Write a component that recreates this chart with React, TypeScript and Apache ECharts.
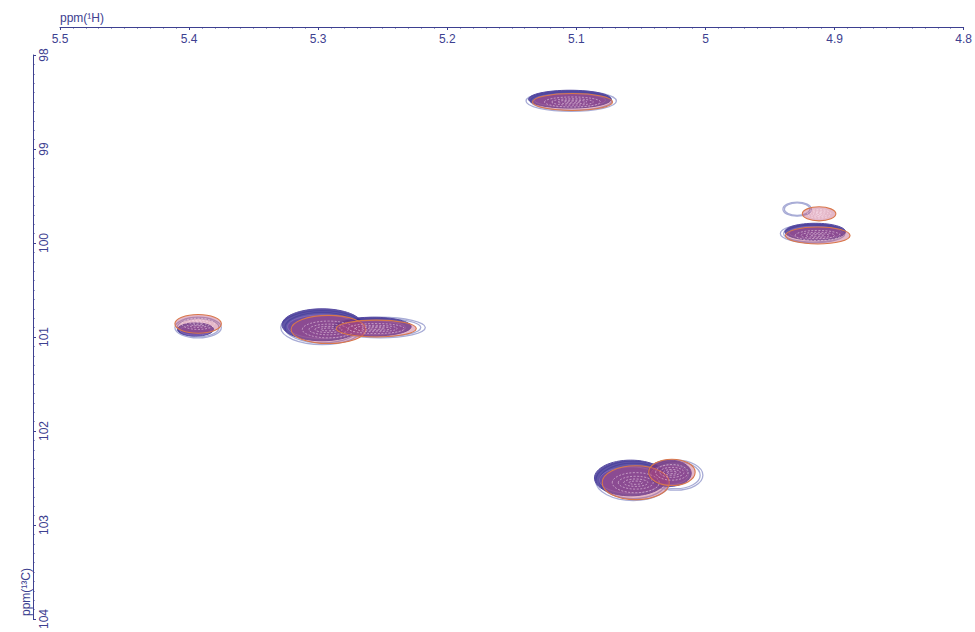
import React, { useEffect, useRef } from "react";
import * as echarts from "echarts";

// 1H axis (ppm), reversed
const xTicks = ["5.5", "5.4", "5.3", "5.2", "5.1", "5", "4.9", "4.8"];
// Spectrum 1 (blue) cross-peaks: 1H ppm, 13C ppm, 1H width, 13C width
const blueH = [5.105, 4.915, 5.395, 5.297, 5.258, 5.058, 5.028];
const blueC = [98.47, 99.88, 100.92, 100.87, 100.89, 102.5, 102.45];
const blueWH = [0.064, 0.047, 0.028, 0.062, 0.06, 0.056, 0.034];
const blueWC = [0.19, 0.18, 0.14, 0.34, 0.2, 0.38, 0.28];
// Spectrum 2 (red) cross-peaks
const redH = [5.103, 4.913, 5.393, 5.292, 5.255, 5.054, 5.026, 4.912];
const redC = [98.5, 99.92, 100.86, 100.92, 100.91, 102.55, 102.44, 99.69];
const redWH = [0.062, 0.05, 0.036, 0.058, 0.062, 0.052, 0.036, 0.026];
const redWC = [0.18, 0.18, 0.2, 0.3, 0.18, 0.36, 0.28, 0.15];
// Spectrum 3 (grey) cross-peaks
const greyH = [5.104, 4.917, 5.393, 5.297, 5.252, 5.056, 5.023, 4.929];
const greyC = [98.49, 99.9, 100.9, 100.9, 100.9, 102.53, 102.47, 99.64];
const greyWH = [0.07, 0.05, 0.036, 0.064, 0.07, 0.058, 0.042, 0.022];
const greyWC = [0.22, 0.2, 0.22, 0.36, 0.22, 0.42, 0.32, 0.15];

const rows = (h: number[], c: number[], wh: number[], wc: number[]) =>
  h.map((v, i) => [v, c[i], wh[i], wc[i]]);

const AXIS = "#3d4090";
const FONT = "Liberation Sans";

function makeRender(kind: "blue" | "red" | "grey") {
  return (params: any, api: any) => {
    const p = api.coord([api.value(0), api.value(1)]);
    const s = api.size([api.value(2), api.value(3)]);
    const rx = Math.abs(s[0]) / 2;
    const ry = Math.abs(s[1]) / 2;
    const children: any[] = [];
    if (kind === "grey") {
      [1, 0.9].forEach((k) => {
        children.push({
          type: "ellipse",
          shape: { cx: p[0], cy: p[1], rx: rx * k, ry: ry * k },
          style: { fill: "none", stroke: "#a8acd6", lineWidth: 1.3 },
        });
      });
    } else if (kind === "blue") {
      children.push({
        type: "ellipse",
        shape: { cx: p[0], cy: p[1], rx, ry },
        style: { fill: "rgba(52,38,142,0.78)", stroke: "#564aa2", lineWidth: 1 },
      });
      children.push({
        type: "ellipse",
        shape: { cx: p[0], cy: p[1] + ry * 0.12, rx: rx * 0.86, ry: ry * 0.74 },
        style: { fill: "rgba(118,66,164,0.5)", stroke: "rgba(160,130,205,0.6)", lineWidth: 0.8 },
      });
    } else {
      children.push({
        type: "ellipse",
        shape: { cx: p[0], cy: p[1], rx, ry },
        style: { fill: "rgba(188,74,118,0.4)", stroke: "#d9774a", lineWidth: 1.1 },
      });
      [0.7, 0.52, 0.36, 0.2].forEach((k, i) => {
        children.push({
          type: "ellipse",
          shape: { cx: p[0], cy: p[1], rx: rx * k, ry: ry * k * (0.85 - i * 0.12) },
          style: {
            fill: "none",
            stroke: "rgba(255,236,246,0.6)",
            lineWidth: 0.8,
            lineDash: [2, 1.5],
          },
        });
      });
    }
    return { type: "group", children };
  };
}

export default function App() {
  const ref = useRef<HTMLDivElement>(null);
  useEffect(() => {
    if (!ref.current) return;
    const chart = echarts.init(ref.current, undefined, { renderer: "svg" });
    const custom = (name: string, kind: "blue" | "red" | "grey", data: number[][]) => ({
      type: "custom",
      name,
      coordinateSystem: "cartesian2d",
      renderItem: makeRender(kind),
      encode: { x: 0, y: 1 },
      data,
      silent: true,
    });
    chart.setOption({
      animation: false,
      backgroundColor: "#ffffff",
      grid: { left: 60, right: 5, top: 55, bottom: 9, containLabel: false },
      xAxis: {
        type: "value",
        position: "top",
        min: 4.8,
        max: 5.5,
        interval: 0.1,
        inverse: true,
        offset: 28,
        axisLine: { show: true, lineStyle: { color: AXIS, width: 1 } },
        axisTick: { show: true, inside: true, length: 3, lineStyle: { color: AXIS } },
        minorTick: { show: true, splitNumber: 10, length: 1.5, lineStyle: { color: AXIS } },
        axisLabel: {
          inside: true,
          margin: 6,
          color: AXIS,
          fontSize: 12,
          fontFamily: FONT,
          showMinLabel: true,
          showMaxLabel: true,
          formatter: (v: number) => xTicks[Math.round((5.5 - v) * 10)] ?? String(v),
        },
        splitLine: { show: false },
      },
      yAxis: {
        type: "value",
        position: "left",
        min: 98,
        max: 104,
        interval: 1,
        inverse: true,
        offset: 27,
        axisLine: { show: true, lineStyle: { color: AXIS, width: 1 } },
        axisTick: { show: true, inside: true, length: 3, lineStyle: { color: AXIS } },
        minorTick: { show: true, splitNumber: 10, length: 1.5, lineStyle: { color: AXIS } },
        axisLabel: {
          inside: true,
          rotate: 90,
          margin: 5,
          color: AXIS,
          fontSize: 12,
          fontFamily: FONT,
          showMinLabel: true,
          showMaxLabel: true,
        },
        splitLine: { show: false },
      },
      graphic: [
        {
          type: "text",
          left: 60,
          top: 12,
          style: { text: "ppm(¹H)", fill: AXIS, fontSize: 12, fontFamily: FONT },
        },
        {
          type: "text",
          x: 32,
          y: 616,
          rotation: Math.PI / 2,
          style: {
            text: "ppm(¹³C)",
            fill: AXIS,
            fontSize: 12,
            fontFamily: FONT,
            align: "left",
            verticalAlign: "bottom",
          },
        },
      ],
      series: [
        custom("Spectrum 3", "grey", rows(greyH, greyC, greyWH, greyWC)),
        custom("Spectrum 1", "blue", rows(blueH, blueC, blueWH, blueWC)),
        custom("Spectrum 2", "red", rows(redH, redC, redWH, redWC)),
      ],
    });
    return () => chart.dispose();
  }, []);
  return (
    <div
      ref={ref}
      style={{ position: "absolute", left: 0, top: 0, width: 975, height: 632 }}
    />
  );
}
